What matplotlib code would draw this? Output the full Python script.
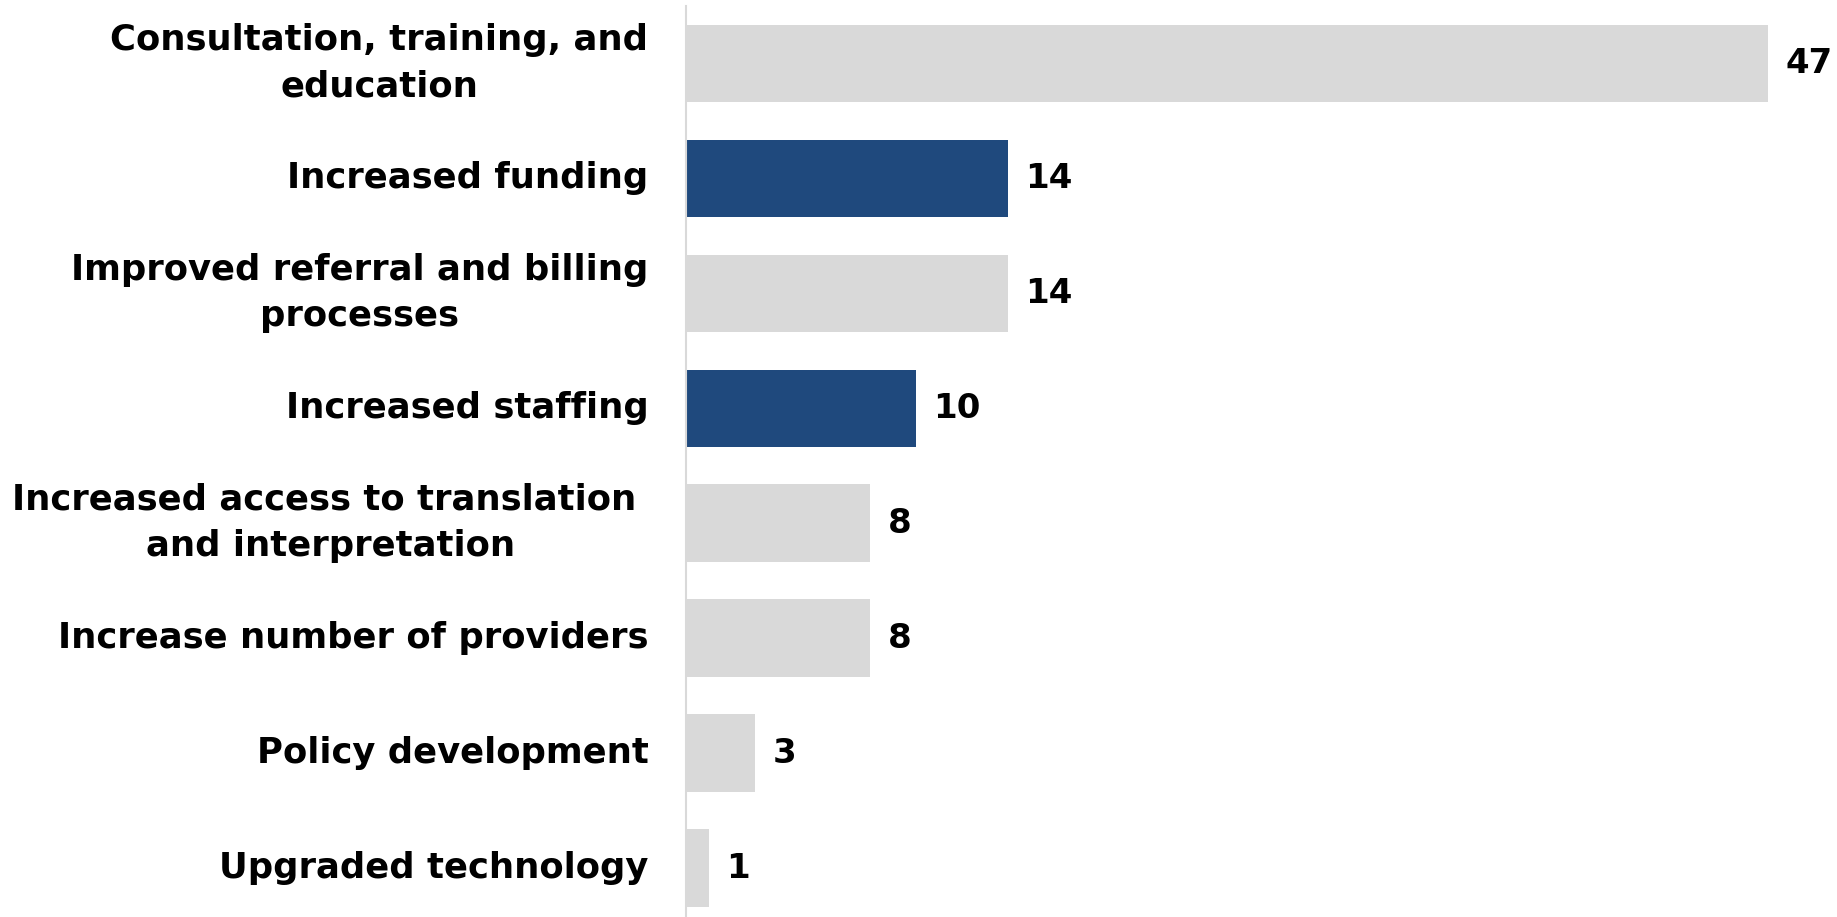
import numpy as np
import matplotlib.pyplot as plt

categories = ['Consultation, training, and\neducation',
              'Increased funding',
              'Improved referral and billing\nprocesses',
              'Increased staffing',
              'Increased access to translation \nand interpretation',
              'Increase number of providers',
              'Policy development',
              'Upgraded technology']
values = [47, 14, 14, 10, 8, 8, 3, 1]
highlight = [False, True, False, True, False, False, False, False]

grey = '#D9D9D9'
blue = '#1F497D'

plt.rcParams['font.family'] = ['DejaVu Sans']

fig = plt.figure(figsize=(18.37, 9.17), dpi=100)
# axes from the axis line to the right edge
ax = fig.add_axes([686/1837, 0, 1 - 686/1837, 911/917])

y = np.arange(len(categories))
colors = [blue if h else grey for h in highlight]
ax.barh(y, values, height=0.67, color=colors)

for yi, v in zip(y, values):
    ax.text(v + 0.75, yi, str(v), va='center', ha='left',
            fontsize=24.5, fontweight='bold', color='black')

ax.set_yticks(y)
ax.set_yticklabels(categories, fontsize=25.5, fontweight='bold',
                   multialignment='center', linespacing=1.45, va='center')
ax.tick_params(axis='y', length=0, pad=27)
ax.set_xticks([])
ax.set_xlim(0, 50)
ax.set_ylim(7.426, -0.496)

for s in ['top', 'right', 'bottom']:
    ax.spines[s].set_visible(False)
ax.spines['left'].set_color('#D9D9D9')
ax.spines['left'].set_linewidth(1.5)

plt.savefig('out.png', dpi=100)
